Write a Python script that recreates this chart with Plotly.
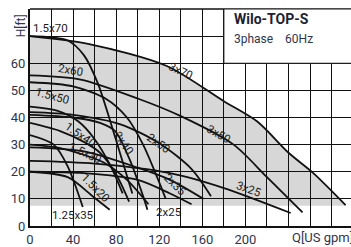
import plotly.graph_objects as go

# ---------------- data (Q in US gpm, H in ft) ----------------
q_3x70 = [0, 56, 127, 180, 211, 240, 263, 293]
h_3x70 = [70, 67, 59, 46, 38.5, 27, 19.5, 7.7]

q_15x70 = [0, 35, 50, 63, 75, 85, 95]
h_15x70 = [70, 68.4, 63, 52.6, 38, 25, 12]

q_2x60 = [0, 40, 70, 90, 105, 118, 126]
h_2x60 = [53, 51.5, 47, 40, 30, 18, 10]

q_3x50 = [0, 47, 100, 140, 189, 220, 253]
h_3x50 = [55.5, 54, 47, 40.5, 30, 18, 5]

q_15x50 = [0, 25, 45, 60, 75, 86]
h_15x50 = [44, 42.5, 38.5, 32, 22, 12]

q_2x50 = [0, 40, 84, 120, 150, 168]
h_2x50 = [42, 41, 37.5, 30.5, 21, 11]

q_15x40 = [0, 28, 50, 65, 80, 92]
h_15x40 = [38, 35, 31, 27, 19, 9]

q_2x40 = [0, 40, 65, 79, 92, 105, 109]
h_2x40 = [41, 40, 38, 35, 25, 11, 6]

q_15x30 = [0, 28, 68, 90, 110]
h_15x30 = [30, 28.7, 23.5, 17, 8]

q_125x35 = [0, 22, 35, 49]
h_125x35 = [33.5, 30, 22, 7]

q_2x35 = [0, 50, 100, 130, 161]
h_2x35 = [29, 27.5, 21.5, 17, 10]

q_3x25 = [0, 60, 130, 180, 242]
h_3x25 = [24, 23, 19.5, 14, 4.8]

q_2x25 = [0, 50, 100, 130, 150]
h_2x25 = [20, 19.5, 17, 12, 8]

q_15x20 = [0, 35, 59, 74]
h_15x20 = [20, 18, 10.7, 6]

curves = [
    (q_3x70, h_3x70), (q_15x70, h_15x70), (q_2x60, h_2x60), (q_3x50, h_3x50),
    (q_15x50, h_15x50), (q_2x50, h_2x50), (q_15x40, h_15x40), (q_2x40, h_2x40),
    (q_15x30, h_15x30), (q_125x35, h_125x35), (q_2x35, h_2x35), (q_3x25, h_3x25),
    (q_2x25, h_2x25), (q_15x20, h_15x20),
]

# curve labels: text, Q, H, angle
label_text = ["1.5x70", "3x70", "2x60", "1.5x50", "3x50", "1.5x40", "1.5x30",
              "2x40", "2x50", "1.5x20", "1.25x35", "2x25", "2x35", "3x25"]
label_q = [19, 140, 37.5, 21, 175, 47, 51.5, 87, 119, 61, 40, 129, 135, 203]
label_h = [73, 57, 57.4, 47.8, 33.8, 33.5, 27, 30.5, 30.5, 14, 4, 5, 15, 13.6]
label_ang = [0, 25, 10, 15, 30, 35, 25, 55, 35, 45, 0, 0, 45, 20]

x_tick_vals = [0, 40, 80, 120, 160, 200]
y_tick_vals = [0, 10, 20, 30, 40, 50, 60]
fill_floor = 7.5

FONT = "Liberation Sans Narrow, Roboto, Noto Sans, sans-serif"
TXT = "#2e3550"
X_RANGE = [0, 298]
Y_RANGE = [0, 80]

fig = go.Figure()

# gray operating area on the lower subplot (x, y)
fig.add_trace(go.Scatter(x=[q_3x70[0], q_3x70[-1]], y=[fill_floor, fill_floor],
                         mode="lines", line=dict(width=0), hoverinfo="skip",
                         showlegend=False, xaxis="x", yaxis="y"))
fig.add_trace(go.Scatter(x=q_3x70, y=h_3x70, mode="lines", fill="tonexty",
                         fillcolor="#d7d7d7", line=dict(width=0, shape="spline"),
                         hoverinfo="skip", showlegend=False, xaxis="x", yaxis="y"))

# pump curves on the upper subplot (x2, y2) so the grid sits over the fill
for q, h in curves:
    fig.add_trace(go.Scatter(x=q, y=h, mode="lines",
                             line=dict(color="#111111", width=1.8, shape="spline", smoothing=0.8),
                             showlegend=False, xaxis="x2", yaxis="y2"))

for t, q, h, a in zip(label_text, label_q, label_h, label_ang):
    fig.add_annotation(x=q, y=h, xref="x2", yref="y2", text=t, showarrow=False,
                       textangle=a, font=dict(family=FONT, size=11.5, color="#1a1a1a"))

fig.update_layout(
    width=351, height=247,
    margin=dict(l=30, r=0, t=9, b=21),
    paper_bgcolor="white", plot_bgcolor="rgba(0,0,0,0)",
    showlegend=False,
    xaxis=dict(range=X_RANGE, visible=False, showgrid=False, zeroline=False),
    yaxis=dict(range=Y_RANGE, visible=False, showgrid=False, zeroline=False),
    xaxis2=dict(range=X_RANGE, anchor="y2", domain=[0, 1],
                tickmode="array", tickvals=x_tick_vals,
                showgrid=True, gridcolor="#111111", gridwidth=1,
                minor=dict(dtick=20, tick0=0, showgrid=True, gridcolor="#111111", gridwidth=1),
                showline=True, linecolor="#111111", linewidth=2, mirror=False,
                zeroline=False, ticks="", tickfont=dict(family=FONT, size=13, color=TXT)),
    yaxis2=dict(range=Y_RANGE, anchor="x2", domain=[0, 1],
                tickmode="array", tickvals=y_tick_vals,
                showgrid=True, gridcolor="#111111", gridwidth=1,
                minor=dict(dtick=10, tick0=0, showgrid=True, gridcolor="#111111", gridwidth=1),
                showline=True, linecolor="#111111", linewidth=2, mirror=False,
                zeroline=False, ticks="", tickfont=dict(family=FONT, size=13, color=TXT)),
)

# top border
fig.add_shape(type="line", xref="paper", yref="paper", x0=0, x1=1, y0=1, y1=1,
              line=dict(color="#111111", width=1.5))
# white title box
fig.add_shape(type="rect", xref="x2", yref="y2", x0=180, x1=310, y0=60, y1=80,
              fillcolor="white", line=dict(color="#111111", width=1), layer="above")

fig.add_annotation(xref="paper", yref="paper", x=0.63, y=0.955, xanchor="left", yanchor="middle",
                   text="<b>Wilo-TOP-S</b>", showarrow=False,
                   font=dict(family=FONT, size=14, color="#1c2233"))
fig.add_annotation(xref="paper", yref="paper", x=0.63, y=0.86, xanchor="left", yanchor="middle",
                   text="3phase&nbsp;&nbsp;&nbsp;&nbsp;60Hz", showarrow=False,
                   font=dict(family=FONT, size=12, color=TXT))
fig.add_annotation(xref="paper", yref="paper", x=0.0, y=0.92, xanchor="center", yanchor="middle",
                   xshift=-9, text="H[ft]", textangle=-90, showarrow=False,
                   font=dict(family=FONT, size=12, color=TXT))
fig.add_annotation(xref="paper", yref="paper", x=0.81, y=0, xanchor="left", yanchor="top",
                   yshift=-2, text="Q[US gpm]", showarrow=False,
                   font=dict(family=FONT, size=13, color=TXT))

fig.write_html("out.html", config={"displayModeBar": False, "staticPlot": True},
               post_script="document.body.style.margin='0';document.body.style.overflow='hidden';")
